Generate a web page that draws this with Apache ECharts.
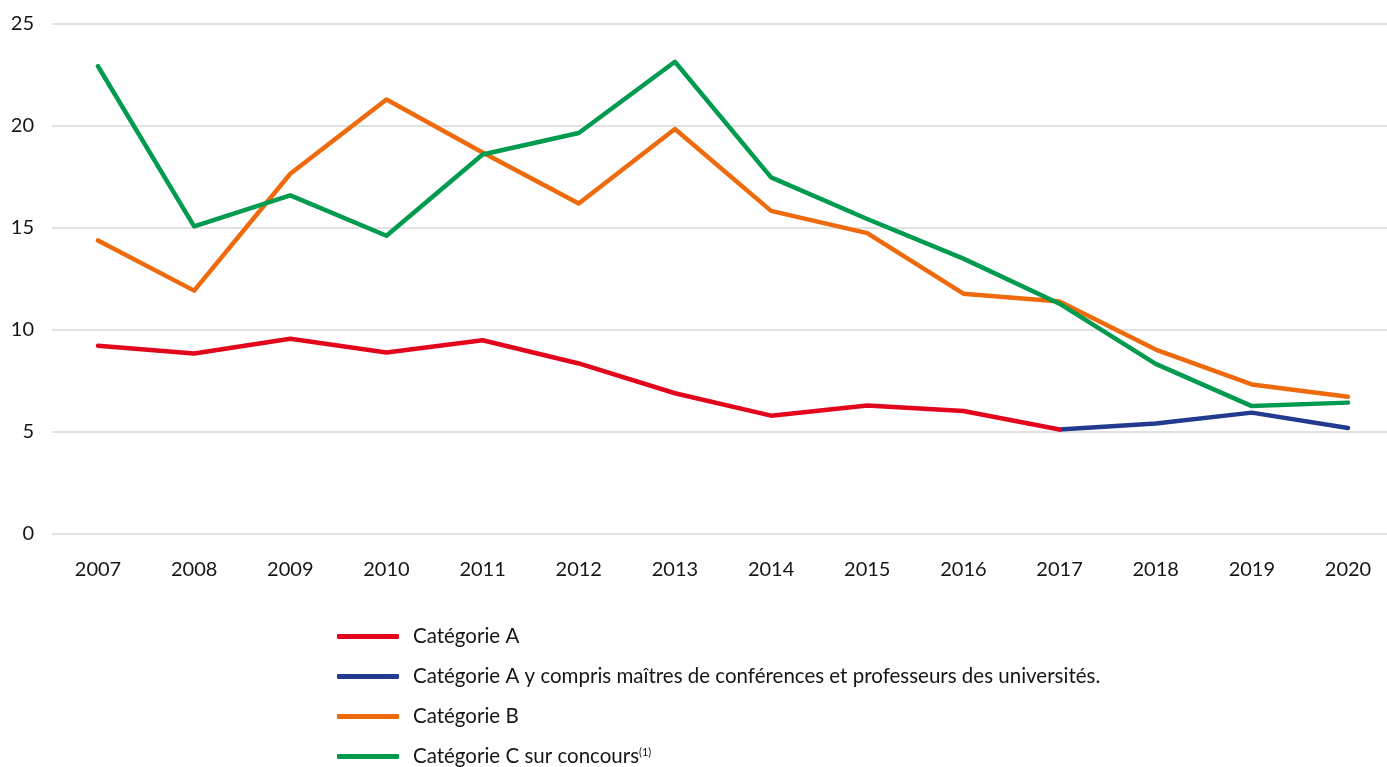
<!DOCTYPE html>
<html>
<head>
<meta charset="utf-8">
<script src="https://cdn.jsdelivr.net/npm/echarts@6/dist/echarts.min.js"></script>
<style>html,body{margin:0;padding:0;background:#fff}#c{width:1387px;height:767px}</style>
</head>
<body>
<div id="c"></div>
<script>
const years = ['2007','2008','2009','2010','2011','2012','2013','2014','2015','2016','2017','2018','2019','2020'];
const catA = [9.23, 8.85, 9.57, 8.9, 9.5, 8.36, 6.9, 5.8, 6.3, 6.03, 5.12, null, null, null];
const catAUniv = [null, null, null, null, null, null, null, null, null, null, 5.12, 5.42, 5.95, 5.2];
const catB = [14.39, 11.93, 17.66, 21.3, 18.7, 16.2, 19.85, 15.84, 14.75, 11.78, 11.4, 9.04, 7.33, 6.73];
const catC = [22.93, 15.08, 16.6, 14.62, 18.6, 19.66, 23.15, 17.48, 15.44, 13.5, 11.29, 8.34, 6.27, 6.44];
const yTicks = [0, 5, 10, 15, 20, 25];

const names = ['Catégorie A', 'Catégorie A y compris maîtres de conférences et professeurs des universités.', 'Catégorie B', 'Catégorie C sur concours'];
const colors = ['#e3051b', '#233b8f', '#ee6a0c', '#009b4e'];
const datas = [catA, catAUniv, catB, catC];
const FONT = 'Lato, "Noto Sans", sans-serif';

function legendAt(top, items) {
  return {
    orient: 'vertical', left: 337, top: top, itemGap: 19, padding: 0,
    itemWidth: 62, itemHeight: 5, icon: 'roundRect',
    data: items,
    formatter: function (n) { return n === 'Catégorie C sur concours' ? '{t|' + n + '}{s|(1)}' : '{t|' + n + '}'; },
    textStyle: {
      color: '#161616', fontSize: 20, lineHeight: 20, padding: [0, 0, 0, 9],
      rich: {
        t: { fontSize: 20.5, lineHeight: 20, color: '#161616', fontFamily: FONT },
        s: { fontSize: 11, lineHeight: 11, color: '#161616', verticalAlign: 'top', padding: [0, 0, 8, 0], fontFamily: FONT }
      }
    }
  };
}

const chart = echarts.init(document.getElementById('c'));
chart.setOption({
  animation: false,
  textStyle: { fontFamily: FONT },
  grid: [
    { left: 52, right: 0, top: 24, height: 510 },
    { left: 98, right: 39, top: 24, height: 510 }
  ],
  xAxis: [
    { gridIndex: 0, type: 'value', min: 0, max: 1, show: false },
    {
      gridIndex: 1, type: 'category', data: years, boundaryGap: false,
      axisLine: { show: false }, axisTick: { show: false }, splitLine: { show: false },
      axisLabel: { color: '#161616', fontSize: 20, margin: 26, fontFamily: FONT }
    }
  ],
  yAxis: [
    {
      gridIndex: 0, type: 'value', min: yTicks[0], max: yTicks[yTicks.length - 1], interval: 5,
      axisLine: { show: false }, axisTick: { show: false },
      axisLabel: { color: '#161616', fontSize: 20, margin: 18, fontFamily: FONT },
      splitLine: { lineStyle: { color: '#d9d9d9', width: 1.5 } }
    },
    {
      gridIndex: 1, type: 'value', min: yTicks[0], max: yTicks[yTicks.length - 1], interval: 5,
      show: false, splitLine: { show: false }
    }
  ],
  legend: [legendAt(626, names.slice(0, 2)), legendAt(706, names.slice(2, 4))],
  series: datas.map((d, i) => ({
    name: names[i], type: 'line', data: d, showSymbol: false, symbol: 'none',
    xAxisIndex: 1, yAxisIndex: 1,
    color: colors[i], lineStyle: { width: 4.5, color: colors[i], cap: 'round', join: 'round' },
    z: i === 1 ? 1 : 2 + i
  }))
});
</script>
</body>
</html>
